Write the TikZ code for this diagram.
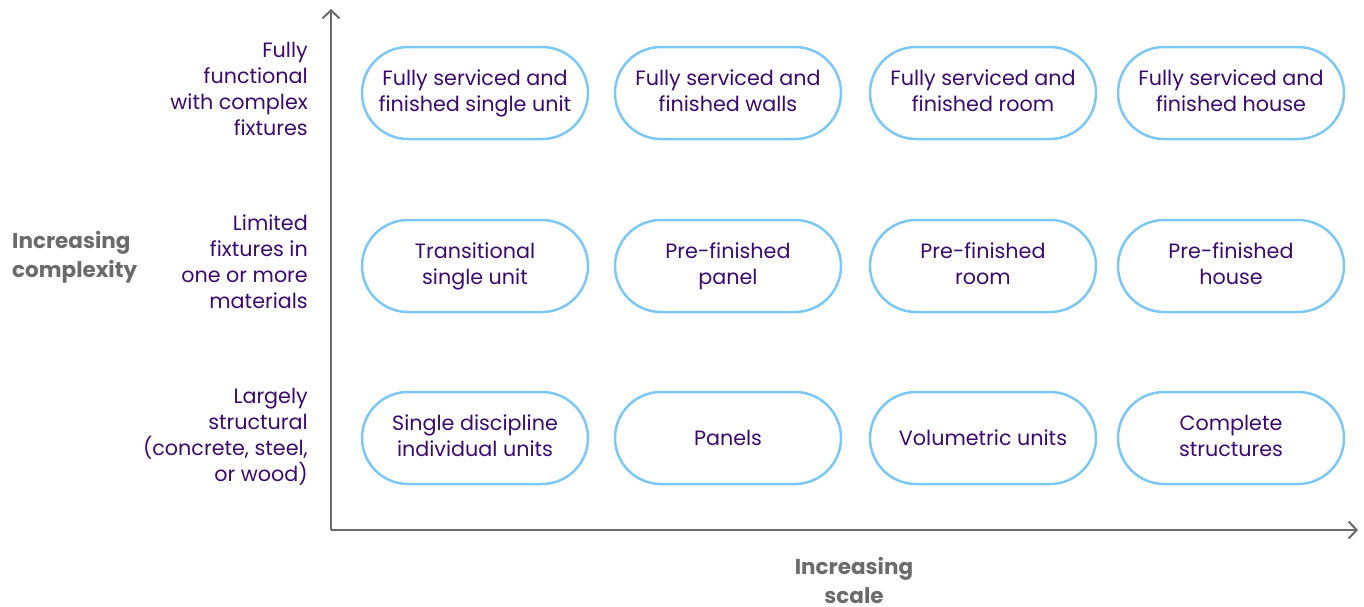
\documentclass[tikz,border=0pt]{standalone}
\usepackage{fontspec}
\setmainfont{Poppins}
\usetikzlibrary{arrows.meta}
\definecolor{axisgrey}{HTML}{6B6B6B}
\definecolor{boxblue}{HTML}{7CC8F5}
\definecolor{inkpurple}{HTML}{3C0A6E}
\tikzset{px/.style={x=1pt,y=-1pt}}
\tikzset{stage/.style={draw=boxblue,line width=2.5pt,rounded corners=46pt,minimum width=226pt,minimum height=92pt,inner sep=0pt,align=center,text=inkpurple,font={\fontsize{20.7}{26}\selectfont},execute at begin node={\rule{0pt}{18pt}},execute at end node={\rule[-4pt]{0pt}{4pt}}}}
\tikzset{level/.style={anchor=east,align=right,inner sep=0pt,text=inkpurple,font={\fontsize{20.7}{26}\selectfont}}}
\tikzset{axislabel/.style={inner sep=0pt,text=axisgrey,font={\bfseries\fontsize{21.5}{29}\selectfont}}}
\tikzset{axis/.style={draw=axisgrey,line width=2pt,-{Straight Barb[length=8pt,width=17pt,line width=2pt]}}}

\begin{document}
\begin{tikzpicture}[px]%
    \path [use as bounding box] (0,0) rectangle (1364,606);
    % axes
    \coordinate (origin) at (331,530);
    \coordinate (ytop) at (331,9);
    \coordinate (xend) at (1358,530);
    \path [axis] (origin) -- (ytop);
    \path [axis] (origin) -- (xend);
    \node [axislabel,anchor=west,align=left] (complexity) at (12,257) {Increasing\\complexity};
    \node [axislabel,align=center] (scale) at (854,580) {Increasing\\scale};
    % levels of complexity
    \node [level] (lvltop) at (308,89) {Fully\\functional\\with complex\\fixtures};
    \node [level] (lvlmid) at (308,262) {Limited\\fixtures in\\one or more\\materials};
    \node [level] (lvlbot) at (308,437) {Largely\\structural\\(concrete, steel,\\or wood)};
    % top row
    \node [stage] (unittop) at (475,93) {Fully serviced and\\finished single unit};
    \node [stage] (paneltop) at (728,93) {Fully serviced and\\finished walls};
    \node [stage] (roomtop) at (983,93) {Fully serviced and\\finished room};
    \node [stage] (housetop) at (1231,93) {Fully serviced and\\finished house};
    % middle row
    \node [stage] (unitmid) at (475,266) {Transitional\\single unit};
    \node [stage] (panelmid) at (728,266) {Pre-finished\\panel};
    \node [stage] (roommid) at (983,266) {Pre-finished\\room};
    \node [stage] (housemid) at (1231,266) {Pre-finished\\house};
    % bottom row
    \node [stage] (unitbot) at (475,438) {Single discipline\\individual units};
    \node [stage] (panelbot) at (728,438) {Panels};
    \node [stage] (roombot) at (983,438) {Volumetric units};
    \node [stage] (housebot) at (1231,438) {Complete\\structures};
\end{tikzpicture}
\end{document}
